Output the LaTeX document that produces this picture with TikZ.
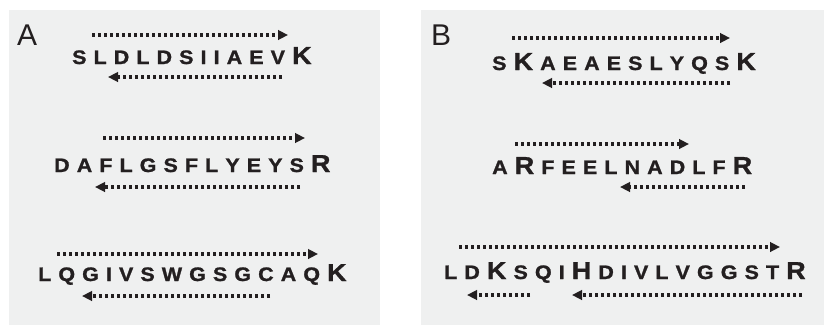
\documentclass[tikz,border=0pt]{standalone}
\usepackage{fontspec}
\setmainfont{Liberation Sans}
\usetikzlibrary{arrows.meta}
\definecolor{panelbg}{HTML}{EFF0F0}
\definecolor{ink}{HTML}{231F20}
\newfontfamily\pepfont{Liberation Sans Bold}[FakeBold=1.2,FakeStretch=1.1]
\newcommand\pepsmall{\fontsize{19.5}{19.5}\selectfont}
\newcommand\pepbig{\fontsize{24.5}{24.5}\selectfont}
\newlength\pepgap
\setlength\pepgap{7.1pt}
\newcommand\pep[1]{\pepi#1\relax}
\def\pepi#1{\ifx#1\relax\else\ifnum`#1>`Z {\pepsmall\uppercase{#1}}\else{\pepbig #1}\fi\kern\pepgap\expandafter\pepi\fi}
\begin{document}
\begin{tikzpicture}[x=1pt,y=-1pt,
  seq/.style={anchor=base west,inner sep=0pt,text=ink,font=\pepfont},
  lbl/.style={anchor=base west,inner sep=0pt,text=ink,font=\fontsize{30}{30}\selectfont},
  dotarrow/.style={draw=ink,line width=3.2pt,dash pattern=on 3.2pt off 2.8pt,
     -{Triangle[length=10pt,width=9.5pt]}}]
\useasboundingbox (0,0) rectangle (824,325);
\fill[panelbg] (9,10) rectangle (380,325);
\fill[panelbg] (421,10) rectangle (824,325);
\node[lbl] (labA) at (17,45) {A};
\node[lbl] (labB) at (431,45) {B};
% Panel A
\node[seq] (a1) at (72,64) {\pep{sldldsiiaevK}};
\node[seq] (a2) at (54,172) {\pep{daflgsflyeysR}};
\node[seq] (a3) at (38,281) {\pep{lqgivswgsgcaqK}};
% Panel B
\node[seq] (b1) at (492,70) {\pep{sKaeaeslyqsK}};
\node[seq] (b2) at (492,174) {\pep{aRfeelnadlfR}};
\node[seq] (b3) at (444,279) {\pep{ldKsqiHdivlvggstR}};
% arrow endpoints
\coordinate (a1ts) at (92,35);  \coordinate (a1te) at (288,35);
\coordinate (a1bs) at (282,77); \coordinate (a1be) at (108,77);
\coordinate (a2ts) at (103,138); \coordinate (a2te) at (305,138);
\coordinate (a2bs) at (300,187); \coordinate (a2be) at (95,187);
\coordinate (a3ts) at (57,254); \coordinate (a3te) at (318,254);
\coordinate (a3bs) at (270,296); \coordinate (a3be) at (82,296);
\coordinate (b1ts) at (512,38); \coordinate (b1te) at (730,38);
\coordinate (b1bs) at (730,83); \coordinate (b1be) at (542,83);
\coordinate (b2ts) at (515,144); \coordinate (b2te) at (689,144);
\coordinate (b2bs) at (745,187); \coordinate (b2be) at (620,187);
\coordinate (b3ts) at (459,247); \coordinate (b3te) at (780,247);
\coordinate (b3bs) at (530,295); \coordinate (b3be) at (467,295);
\coordinate (b3cs) at (802,295); \coordinate (b3ce) at (572,295);
\foreach \p in {a1t,a1b,a2t,a2b,a3t,a3b,b1t,b1b,b2t,b2b,b3t,b3b,b3c}
  \draw[dotarrow] (\p s) -- (\p e);
\end{tikzpicture}
\end{document}
